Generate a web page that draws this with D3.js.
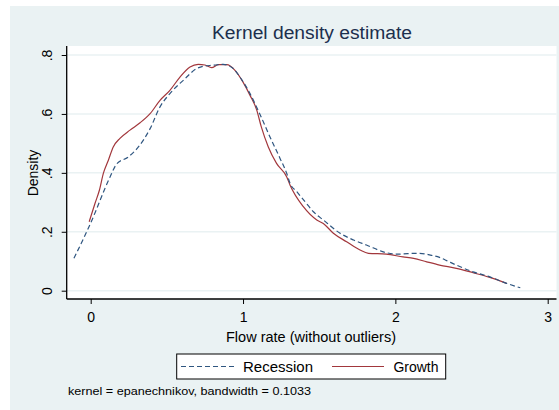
<!DOCTYPE html>
<html><head><meta charset="utf-8">
<script src="https://cdn.jsdelivr.net/npm/d3@7"></script>
<style>body{margin:0;background:#fff;} text{font-family:"Liberation Sans",Arial,sans-serif;}</style>
</head><body>
<svg id="c" width="559" height="410"></svg>
<script>
const title = "Kernel density estimate";
const xLabel = "Flow rate (without outliers)";
const yLabel = "Density";
const note = "kernel = epanechnikov, bandwidth = 0.1033";
const xTicks = [0, 1, 2, 3];
const yTicks = [0, 0.2, 0.4, 0.6, 0.8];
const yTickLabels = ["0", ".2", ".4", ".6", ".8"];
const seriesNames = ["Recession", "Growth"];

const recessionX = [-0.11, 0.0, 0.127, 0.17, 0.247, 0.313, 0.39, 0.455, 0.52, 0.608, 0.696, 0.739, 0.80, 0.87, 0.936, 0.98, 1.046, 1.11, 1.177, 1.243, 1.287, 1.309, 1.353, 1.407, 1.462, 1.527, 1.637, 1.725, 1.81, 1.94, 2.01, 2.08, 2.16, 2.23, 2.29, 2.337, 2.40, 2.51, 2.62, 2.73, 2.82];
const recessionY = [0.11, 0.23, 0.386, 0.43, 0.454, 0.488, 0.55, 0.624, 0.669, 0.714, 0.754, 0.762, 0.765, 0.768, 0.754, 0.725, 0.669, 0.60, 0.522, 0.449, 0.398, 0.364, 0.336, 0.302, 0.268, 0.24, 0.195, 0.172, 0.155, 0.129, 0.124, 0.126, 0.127, 0.121, 0.113, 0.102, 0.087, 0.064, 0.047, 0.025, 0.01];

const growthX = [-0.01, 0.028, 0.057, 0.083, 0.116, 0.148, 0.192, 0.258, 0.324, 0.39, 0.455, 0.52, 0.586, 0.652, 0.706, 0.75, 0.794, 0.838, 0.893, 0.947, 1.0, 1.046, 1.09, 1.12, 1.166, 1.22, 1.287, 1.309, 1.396, 1.484, 1.527, 1.593, 1.68, 1.768, 1.823, 1.94, 2.05, 2.12, 2.206, 2.29, 2.40, 2.51, 2.62, 2.73];
const growthY = [0.234, 0.296, 0.341, 0.398, 0.443, 0.488, 0.517, 0.545, 0.57, 0.601, 0.646, 0.68, 0.725, 0.759, 0.768, 0.766, 0.757, 0.767, 0.767, 0.748, 0.708, 0.663, 0.613, 0.556, 0.488, 0.432, 0.386, 0.358, 0.285, 0.24, 0.228, 0.195, 0.166, 0.138, 0.127, 0.124, 0.115, 0.11, 0.098, 0.087, 0.076, 0.061, 0.045, 0.025];

const FONT = "Liberation Sans, Arial, sans-serif";
const svg = d3.select("#c");
svg.append("rect").attr("x", 10).attr("y", 6).attr("width", 549).attr("height", 404).attr("fill", "#eaf2f3");

const L = 66.7, R = 556.5, T = 46, B = 299;
svg.append("rect").attr("x", L).attr("y", T).attr("width", R - L).attr("height", B - T).attr("fill", "#fff");

const x = d3.scaleLinear().domain([0, 3]).range([90.7, 547.7]);
const y = d3.scaleLinear().domain([0, 0.8]).range([290.7, 55]);

svg.append("g").selectAll("line").data(yTicks).join("line")
  .attr("x1", L).attr("x2", R)
  .attr("y1", d => y(d)).attr("y2", d => y(d))
  .attr("stroke", "#eaf2f3").attr("stroke-width", 1.5);

const gx = svg.append("g").attr("transform", `translate(0,${B})`)
  .call(d3.axisBottom(x).tickValues(xTicks).tickFormat(d3.format("d")).tickSize(5));
gx.select(".domain").attr("d", `M${L},0H${R}`).attr("stroke", "#000").attr("stroke-width", 1.3);
gx.selectAll(".tick line").attr("stroke", "#000");
gx.selectAll("text").attr("font-size", 14).attr("fill", "#000").attr("y", 23).attr("dy", 0)
  .style("font-family", FONT);

const gy = svg.append("g").attr("transform", `translate(${L},0)`)
  .call(d3.axisLeft(y).tickValues(yTicks).tickFormat((d, i) => yTickLabels[i]).tickSize(5));
gy.select(".domain").attr("d", `M0,${T}V${B}`).attr("stroke", "#000").attr("stroke-width", 1.3);
gy.selectAll(".tick line").attr("stroke", "#000");
gy.selectAll(".tick text")
  .attr("font-size", 14).attr("fill", "#000")
  .attr("text-anchor", "middle")
  .attr("transform", "rotate(-90)").attr("x", 0).attr("y", -14.5).attr("dy", 0)
  .style("font-family", FONT);

const line = d3.line().x(d => x(d[0])).y(d => y(d[1])).curve(d3.curveMonotoneX);
const recData = recessionX.map((v, i) => [v, recessionY[i]]);
const groData = growthX.map((v, i) => [v, growthY[i]]);
const recColor = "#2f5680", groColor = "#a2373c";
svg.append("path").datum(groData).attr("d", line).attr("fill", "none").attr("stroke", groColor).attr("stroke-width", 1.2);
svg.append("path").datum(recData).attr("d", line).attr("fill", "none").attr("stroke", recColor).attr("stroke-width", 1.2).attr("stroke-dasharray", "5,3");

svg.append("text").attr("x", 212).attr("y", 38.5)
  .attr("font-size", 18).attr("fill", "#1c2f4d")
  .attr("textLength", 200).attr("lengthAdjust", "spacingAndGlyphs").text(title);

svg.append("text").attr("x", 226).attr("y", 342)
  .attr("font-size", 14).attr("fill", "#000")
  .attr("textLength", 170).attr("lengthAdjust", "spacingAndGlyphs").text(xLabel);
svg.append("text").attr("transform", "translate(37.5,173) rotate(-90)").attr("text-anchor", "middle")
  .attr("font-size", 14).attr("fill", "#000").text(yLabel);

const lg = svg.append("g");
lg.append("rect").attr("x", 176.7).attr("y", 354).attr("width", 269).attr("height", 25)
  .attr("fill", "#fff").attr("stroke", "#000").attr("stroke-width", 1);
lg.append("line").attr("x1", 181).attr("x2", 237).attr("y1", 366.5).attr("y2", 366.5)
  .attr("stroke", recColor).attr("stroke-width", 1.2).attr("stroke-dasharray", "5,3");
lg.append("text").attr("x", 243).attr("y", 371.5).attr("font-size", 14).attr("fill", "#000")
  .attr("textLength", 70).attr("lengthAdjust", "spacingAndGlyphs").text(seriesNames[0]);
lg.append("line").attr("x1", 332).attr("x2", 384).attr("y1", 366.5).attr("y2", 366.5)
  .attr("stroke", groColor).attr("stroke-width", 1.2);
lg.append("text").attr("x", 393.5).attr("y", 371.5).attr("font-size", 14).attr("fill", "#000")
  .attr("textLength", 45).attr("lengthAdjust", "spacingAndGlyphs").text(seriesNames[1]);

svg.append("text").attr("x", 68).attr("y", 395).attr("font-size", 11).attr("fill", "#000")
  .attr("textLength", 243).attr("lengthAdjust", "spacingAndGlyphs").text(note);
</script>
</body></html>
